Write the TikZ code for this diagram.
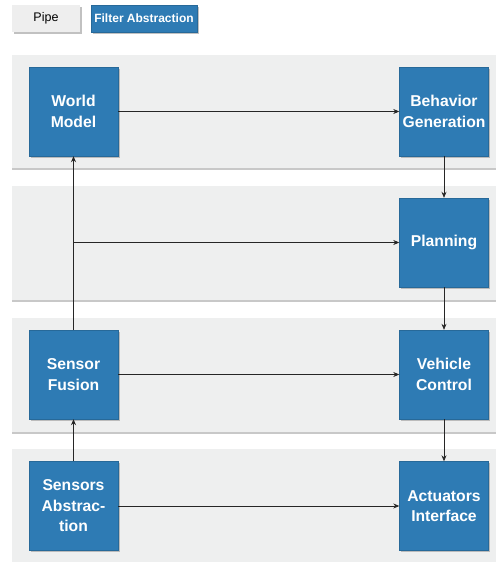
\documentclass[tikz,border=0pt]{standalone}
\usepackage{fontspec}
\setmainfont{Liberation Sans}
\usetikzlibrary{arrows.meta,shadows}
\definecolor{boxblue}{RGB}{46,123,180}
\definecolor{bandgray}{RGB}{238,239,239}
\definecolor{bandline}{RGB}{200,200,200}
\definecolor{pipegray}{RGB}{238,238,238}
\tikzset{
  filterbox/.style={draw=boxblue!85!black, line width=0.4pt, fill=boxblue, text=white,
    minimum width=89pt, minimum height=89pt, inner sep=2pt, align=center,
    font=\fontsize{15.7}{20.5}\selectfont\bfseries,
    drop shadow={shadow xshift=1.5pt, shadow yshift=-1.5pt, fill=black!40, opacity=0.6}},
  band/.style={fill=bandgray, draw=none},
  legendbox/.style={minimum height=27pt, inner sep=0pt, font=\fontsize{12}{15}\selectfont\bfseries,
    drop shadow={shadow xshift=1.5pt, shadow yshift=-1.5pt, fill=black!40, opacity=0.6}},
  flow/.style={draw=black!85, line width=0.7pt, -{Stealth[length=6pt,width=5pt]}}
}
\begin{document}
\begin{tikzpicture}[x=1pt,y=-1pt]
\useasboundingbox (0,0) rectangle (496,562);
\fill[white] (0,0) rectangle (496,562);
% bands
\fill[bandline] (12,57) rectangle (496,170);
\fill[band] (12,55) rectangle (496,168);
\fill[bandline] (12,188) rectangle (496,302);
\fill[band] (12,186) rectangle (496,300);
\fill[bandline] (12,320) rectangle (496,434);
\fill[band] (12,318) rectangle (496,432);
\fill[band] (12,449) rectangle (496,562);
% legend
\node[legendbox, fill=pipegray, minimum width=68pt, text=black, font=\fontsize{12.5}{15}\selectfont] (pipe) at (46,18.5) {Pipe};
\node[legendbox, fill=boxblue, draw=boxblue!85!black, minimum width=106pt, text=white] (fa) at (144,18.5) {Filter Abstraction};
% boxes
\node[filterbox] (wm) at (73.5,111.5) {World\\Model};
\node[filterbox] (bg) at (444,111.5) {Behavior\\Generation};
\node[filterbox] (pl) at (444,242.5) {Planning};
\node[filterbox] (sf) at (73.5,374.5) {Sensor\\Fusion};
\node[filterbox] (vc) at (444,374.5) {Vehicle\\Control};
\node[filterbox] (sa) at (73.5,506) {Sensors\\Abstrac-\\tion};
\node[filterbox] (ai) at (444,506) {Actuators\\Interface};
% connectors
\coordinate (j) at (wm.south |- pl.west);
\draw[flow] (wm.east) -- (bg.west);
\draw[flow] (bg.south) -- (pl.north);
\draw[flow] (sf.north) -- (wm.south);
\draw[flow] (j) -- (pl.west);
\draw[flow] (pl.south) -- (vc.north);
\draw[flow] (sf.east) -- (vc.west);
\draw[flow] (vc.south) -- (ai.north);
\draw[flow] (sa.north) -- (sf.south);
\draw[flow] (sa.east) -- (ai.west);
\end{tikzpicture}
\end{document}
